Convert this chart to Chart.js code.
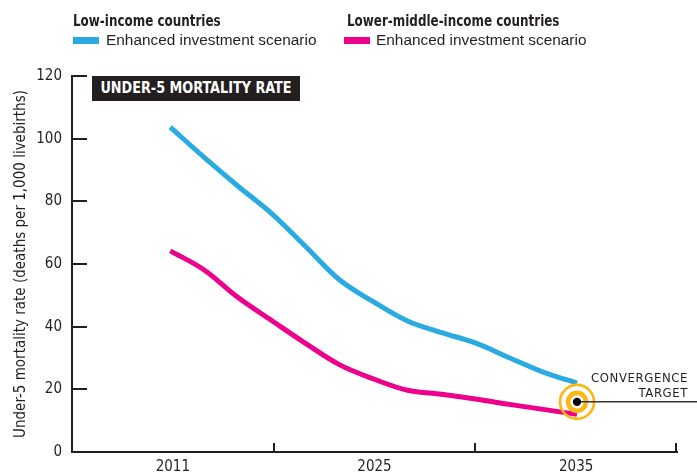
<!DOCTYPE html>
<html>
<head>
<meta charset="utf-8">
<script src="https://cdn.jsdelivr.net/npm/chart.js@4"></script>
<style>
  html, body { margin: 0; padding: 0; background: #fff; }
  #wrap { position: relative; width: 697px; height: 475px; overflow: hidden; }
  canvas { position: absolute; left: 0; top: 0; }
  .hd { position: absolute; font: bold 16px "DejaVu Sans Condensed", sans-serif; color: #231f20;
        transform: scaleX(0.83); transform-origin: left top; white-space: nowrap; }
  .it { position: absolute; font: 15.4px "Liberation Sans", Arial, sans-serif; color: #231f20; white-space: nowrap; }
  .sw { position: absolute; width: 26px; height: 7px; }
  .box { position: absolute; left: 92px; top: 76px; width: 208px; height: 25px; background: #231f20; }
  .box span { display: block; color: #fff; font: bold 15px "DejaVu Sans Condensed", sans-serif; line-height: 25px;
              white-space: nowrap; text-align: center; transform: scaleX(0.95); }
  .tg { position: absolute; right: 9px; top: 370px; text-align: right; font: 13px "DejaVu Sans Condensed", sans-serif;
        letter-spacing: 0.6px; line-height: 15px; color: #231f20; }
</style>
</head>
<body>
<div id="wrap">
  <canvas id="c" width="697" height="475"></canvas>
  <div class="hd" style="left:73px; top:11px;">Low-income countries</div>
  <div class="sw" style="left:73px; top:37px; background:#29abe2;"></div>
  <div class="it" style="left:106px; top:31px;">Enhanced investment scenario</div>
  <div class="hd" style="left:347px; top:11px;">Lower-middle-income countries</div>
  <div class="sw" style="left:344px; top:37px; background:#ec008c;"></div>
  <div class="it" style="left:376px; top:31px;">Enhanced investment scenario</div>
  <div class="box"><span>UNDER-5 MORTALITY RATE</span></div>
  <div class="tg">CONVERGENCE<br>TARGET</div>
</div>
<script>
// x axis section labels
var cats = ['2011', '2025', '2035'];
// years
var years = [2011, 2013, 2015, 2017, 2019, 2021, 2023, 2025, 2027, 2029, 2031, 2033, 2035];
var lowIncome = [103.7, 94.0, 84.8, 76.0, 65.5, 54.9, 47.9, 41.8, 38.1, 34.8, 30.1, 25.5, 22.0];
var lowerMiddle = [64.2, 58.1, 49.3, 41.9, 34.6, 27.8, 23.3, 19.7, 18.4, 16.9, 15.2, 13.6, 12.0];
var targetYear = [2035];
var targetValue = [16];
var yTicks = [0, 20, 40, 60, 80, 100, 120];

var NARROW = '"DejaVu Sans Condensed", sans-serif';
var INK = '#231f20';
var YELLOW = '#fbb715';

function pts(xs, ys) {
  return xs.map(function (x, i) { return { x: x, y: ys[i] }; });
}

// inward tick marks, and the leader line from the target to the right edge
var decor = {
  id: 'decor',
  afterDatasetsDraw: function (chart) {
    var c = chart.ctx, y = chart.scales.y, x = chart.scales.x, x2 = chart.scales.x2;
    var a = chart.chartArea;
    c.save();
    c.strokeStyle = INK;
    c.lineWidth = 2;
    c.beginPath();
    yTicks.forEach(function (v) {
      if (v === 0) return;
      var py = Math.round(y.getPixelForValue(v));
      c.moveTo(a.left - 1, py);
      c.lineTo(a.left + 15, py);
    });
    for (var i = 0; i < cats.length; i++) {
      var px = i < cats.length - 1 ? (x.getPixelForValue(i) + x.getPixelForValue(i + 1)) / 2 : a.right - 1;
      px = Math.round(px);
      c.moveTo(px, a.bottom + 1);
      c.lineTo(px, a.bottom - 9);
    }
    c.stroke();
    var tx = x2.getPixelForValue(targetYear[0]);
    var ty = y.getPixelForValue(targetValue[0]);
    c.lineWidth = 1.5;
    c.strokeStyle = '#333';
    c.beginPath();
    c.moveTo(tx + 4, ty);
    c.lineTo(chart.width, ty);
    c.stroke();
    c.restore();
  }
};

new Chart(document.getElementById('c'), {
  type: 'line',
  data: {
    datasets: [
      { data: pts(targetYear, targetValue), xAxisID: 'x2', showLine: false, order: 0,
        pointRadius: 4.2, pointBackgroundColor: '#000', pointBorderWidth: 0 },
      { data: pts(targetYear, targetValue), xAxisID: 'x2', showLine: false, order: 0,
        pointRadius: 9, pointBackgroundColor: '#fff', pointBorderColor: YELLOW, pointBorderWidth: 4.6 },
      { data: pts(targetYear, targetValue), xAxisID: 'x2', showLine: false, order: 0,
        pointRadius: 17, pointBackgroundColor: 'rgba(0,0,0,0)', pointBorderColor: YELLOW, pointBorderWidth: 2.7 },
      { label: 'Low-income countries', data: pts(years, lowIncome), xAxisID: 'x2', order: 1,
        borderColor: '#29abe2', borderWidth: 5, pointRadius: 0, tension: 0.35, borderCapStyle: 'butt' },
      { label: 'Lower-middle-income countries', data: pts(years, lowerMiddle), xAxisID: 'x2', order: 1,
        borderColor: '#ec008c', borderWidth: 5, pointRadius: 0, tension: 0.35, borderCapStyle: 'butt' }
    ]
  },
  plugins: [decor],
  options: {
    responsive: false,
    animation: false,
    events: [],
    layout: { padding: { top: 76, right: 20, left: 0, bottom: 0 } },
    plugins: { legend: { display: false }, tooltip: { enabled: false } },
    scales: {
      x: {
        type: 'category',
        labels: cats,
        offset: true,
        grid: { display: false, drawTicks: false },
        border: { display: true, color: INK, width: 2 },
        ticks: { color: INK, font: { family: NARROW, size: 15 }, padding: 6, maxRotation: 0 },
        afterFit: function (s) { s.height = 23; }
      },
      x2: { type: 'linear', display: false, min: 2005.2, max: 2040.9 },
      y: {
        min: 0, max: 120,
        afterBuildTicks: function (s) { s.ticks = yTicks.map(function (v) { return { value: v }; }); },
        grid: { display: false, drawTicks: false },
        border: { display: true, color: INK, width: 2 },
        ticks: { color: INK, font: { family: NARROW, size: 15 }, padding: 10 },
        title: { display: true, text: 'Under-5 mortality rate (deaths per 1,000 livebirths)', color: INK,
                 font: { family: NARROW, size: 15 }, padding: { top: 12, bottom: 0 } },
        afterFit: function (s) { s.width = 72; }
      }
    }
  }
});
</script>
</body>
</html>
